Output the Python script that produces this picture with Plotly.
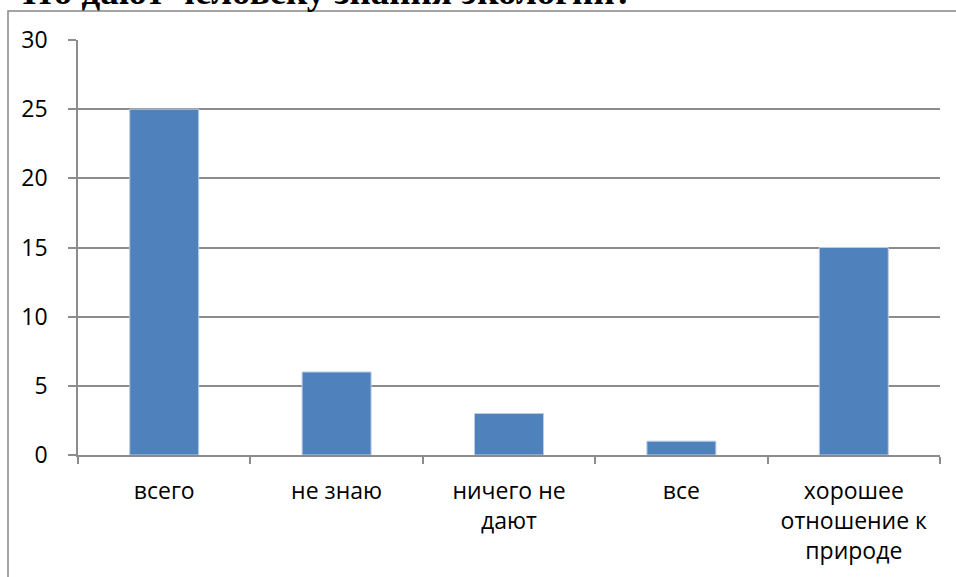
import plotly.graph_objects as go

# Survey answers: "What does knowledge of ecology give a person?"
categories = ["всего", "не знаю", "ничего не<br>дают", "все", "хорошее<br>отношение к<br>природе"]
counts = [25, 6, 3, 1, 15]

BAR_COLOR = "#4F81BD"
GRID_COLOR = "#8C8C8C"

fig = go.Figure(
    go.Bar(
        x=categories,
        y=counts,
        marker=dict(color=BAR_COLOR, line=dict(color="#B9CDE5", width=1)),
        width=0.4,
    )
)

L, R, T, B = 78, 16, 40, 122
W, H = 956, 577
pw, ph = W - L - R, H - T - B

def px_x(p):
    return (p - L) / pw

def px_y(p):
    return (H - B - p) / ph

fig.update_layout(
    width=W,
    height=H,
    margin=dict(l=L, r=R, t=T, b=B),
    paper_bgcolor="white",
    plot_bgcolor="white",
    showlegend=False,
    font=dict(family="Open Sans, Liberation Sans, sans-serif", size=23, color="#000000"),
    xaxis=dict(
        type="category",
        showgrid=False,
        showline=True,
        linecolor=GRID_COLOR,
        linewidth=1.5,
        ticks="outside",
        tickson="boundaries",
        ticklen=7,
        tickwidth=1.5,
        tickcolor=GRID_COLOR,
        ticklabelstandoff=15,
        tickangle=0,
    ),
    yaxis=dict(
        range=[0, 30],
        dtick=5,
        showgrid=True,
        gridcolor=GRID_COLOR,
        gridwidth=1.5,
        zeroline=False,
        showline=True,
        linecolor=GRID_COLOR,
        linewidth=1.5,
        ticks="outside",
        ticklen=8,
        tickwidth=1.5,
        tickcolor=GRID_COLOR,
        ticklabelstandoff=16,
    ),
    shapes=[
        dict(
            type="rect",
            xref="paper",
            yref="paper",
            x0=px_x(8),
            x1=px_x(1200),
            y0=px_y(900),
            y1=px_y(11),
            line=dict(color="#868686", width=1.5),
            fillcolor="rgba(0,0,0,0)",
            layer="below",
        )
    ],
    annotations=[
        dict(
            text="<b>Что дают человеку знания экологии?</b>",
            xref="paper",
            yref="paper",
            x=px_x(7),
            y=px_y(-8),
            xanchor="left",
            yanchor="middle",
            showarrow=False,
            font=dict(family="Liberation Serif, Times New Roman, serif", size=37, color="#000000"),
        )
    ],
)

fig.write_html("out.html")
